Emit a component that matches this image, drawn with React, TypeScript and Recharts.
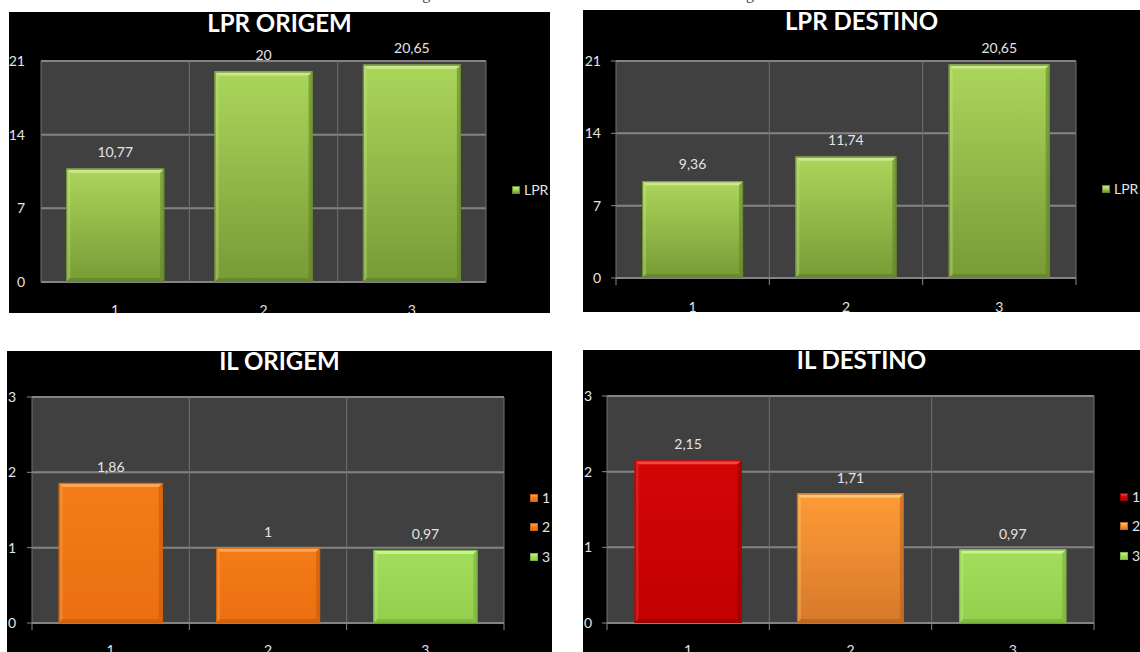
import React from 'react';
import { BarChart, Bar, XAxis, YAxis, CartesianGrid, LabelList, Cell, Legend } from 'recharts';

// ---------- data ----------
const CATEGORIES = ['1', '2', '3'];
const LPR_ORIGEM_VALUES = [10.77, 20, 20.65];
const LPR_DESTINO_VALUES = [9.36, 11.74, 20.65];
const IL_ORIGEM_VALUES = [1.86, 1, 0.97];
const IL_DESTINO_VALUES = [2.15, 1.71, 0.97];
const LPR_TICKS = [0, 7, 14, 21];
const IL_TICKS = [0, 1, 2, 3];
const LPR_LEGEND = ['LPR'];
const IL_LEGEND = ['1', '2', '3'];
const TITLES = ['LPR ORIGEM', 'LPR DESTINO', 'IL ORIGEM', 'IL DESTINO'];
const CAPTION = 'Figura 6. Gráficos de LPR e IL dos Terminais de Origem e dos Terminais de Destino';

// ---------- styles ----------
const FONT = "Lato, 'Open Sans', sans-serif";
const TEXT = '#e4e4e4';

type Pal = { top: string; bottom: string; light: string; dark: string; edge: string };
const PALETTES: Record<string, Pal> = {
  lprGreen: { top: '#ABD65B', bottom: '#779B36', light: '#CBE98C', dark: '#5E7E27', edge: '#678A2C' },
  ilGreen: { top: '#A2DD5C', bottom: '#93CF4C', light: '#C8F390', dark: '#75AB38', edge: '#7CB23F' },
  orange: { top: '#F47C17', bottom: '#EB6F11', light: '#FFA656', dark: '#C35A0B', edge: '#CC620D' },
  red: { top: '#D30606', bottom: '#C30000', light: '#F04848', dark: '#920000', edge: '#9C0000' },
  lightOrange: { top: '#FF9B36', bottom: '#D6792B', light: '#FFC578', dark: '#B15E1D', edge: '#BC6722' },
};

const LPR_COLORS = ['lprGreen', 'lprGreen', 'lprGreen'];
const LPR_LEGEND_COLORS = ['lprGreen'];
const IL_ORIGEM_COLORS = ['orange', 'orange', 'ilGreen'];
const IL_DESTINO_COLORS = ['red', 'lightOrange', 'ilGreen'];

type Cfg = {
  x: number; y: number; w: number; h: number;
  mt: number; mr: number; yw: number; xh: number;
  ym: number; xm: number; showTicks: boolean; labelOffset: number;
  legendLeft: number; legendTop: number; titleTop: number;
};

const CFG1: Cfg = { x: 9, y: 12, w: 541, h: 301, mt: 49, mr: 64, yw: 32, xh: 31, ym: 11, xm: 23, showTicks: false, labelOffset: 12, legendLeft: 503, legendTop: 163, titleTop: -1 };
const CFG2: Cfg = { x: 583, y: 10, w: 557, h: 302, mt: 51, mr: 64, yw: 33, xh: 34, ym: 10, xm: 24, showTicks: true, labelOffset: 12, legendLeft: 519, legendTop: 164, titleTop: -1 };
const CFG3: Cfg = { x: 7, y: 351, w: 545, h: 301, mt: 46, mr: 48, yw: 25, xh: 29, ym: 11, xm: 22, showTicks: true, labelOffset: 11, legendLeft: 523, legendTop: 132, titleTop: -2 };
const CFG4: Cfg = { x: 583, y: 350, w: 557, h: 302, mt: 46, mr: 46, yw: 24, xh: 29, ym: 10, xm: 22, showTicks: true, labelOffset: 11, legendLeft: 537, legendTop: 132, titleTop: -2 };

const fmt = (v: any) => String(v).replace('.', ',');

function Gradients() {
  return (
    <svg width={0} height={0} style={{ position: 'absolute' }}>
      <defs>
        {Object.keys(PALETTES).map((k) => (
          <linearGradient key={k} id={`grad-${k}`} x1="0" y1="0" x2="0" y2="1">
            <stop offset="0%" stopColor={PALETTES[k].top} />
            <stop offset="100%" stopColor={PALETTES[k].bottom} />
          </linearGradient>
        ))}
      </defs>
    </svg>
  );
}

function BevelBar(props: any) {
  const { x, y, width: w, height: h, index, colors } = props;
  if (!(w > 0) || !(h > 0)) return null;
  const key = colors[index];
  const p = PALETTES[key];
  const b = Math.min(4, w / 4, h / 4);
  return (
    <g>
      <rect x={x} y={y} width={w} height={h} fill={`url(#grad-${key})`} />
      <polygon points={`${x},${y} ${x + w},${y} ${x + w - b},${y + b} ${x + b},${y + b}`} fill={p.light} />
      <polygon points={`${x},${y} ${x + b},${y + b} ${x + b},${y + h - b} ${x},${y + h}`} fill={p.light} opacity={0.35} />
      <polygon points={`${x + w},${y} ${x + w - b},${y + b} ${x + w - b},${y + h - b} ${x + w},${y + h}`} fill={p.dark} opacity={0.55} />
      <polygon points={`${x},${y + h} ${x + b},${y + h - b} ${x + w - b},${y + h - b} ${x + w},${y + h}`} fill={p.dark} opacity={0.6} />
      <rect x={x + 0.5} y={y + 0.5} width={w - 1} height={h - 1} fill="none" stroke={p.edge} strokeWidth={1} />
    </g>
  );
}

function XTick(props: any) {
  const { x, y, payload, index, visibleTicksCount, width, showTicks, margin } = props;
  const axisY = y - margin;
  const bw = width / visibleTicksCount;
  const ok = showTicks && isFinite(bw);
  return (
    <g>
      {ok && <line x1={x - bw / 2} x2={x - bw / 2} y1={axisY} y2={axisY + 7} stroke="#8a8a8a" strokeWidth={1} />}
      {ok && index === visibleTicksCount - 1 && (
        <line x1={x + bw / 2} x2={x + bw / 2} y1={axisY} y2={axisY + 7} stroke="#8a8a8a" strokeWidth={1} />
      )}
      <text x={x} y={y} dy="0.71em" textAnchor="middle" fill={TEXT} fontSize={14} fontFamily={FONT}>
        {payload.value}
      </text>
    </g>
  );
}

function LegendBox({ labels, colors }: { labels: string[]; colors: string[] }) {
  return (
    <div style={{ display: 'flex', flexDirection: 'column' }}>
      {labels.map((l, i) => {
        const p = PALETTES[colors[i]];
        return (
          <div key={l} style={{ height: 29.5, display: 'flex', alignItems: 'center' }}>
            <span
              style={{
                width: 8, height: 8, boxSizing: 'border-box', marginRight: 4,
                background: `linear-gradient(${p.light}, ${p.top} 45%, ${p.bottom})`,
                border: `1px solid ${p.edge}`, display: 'inline-block',
              }}
            />
            <span style={{ color: TEXT, fontSize: 14, fontFamily: FONT, lineHeight: '14px' }}>{l}</span>
          </div>
        );
      })}
    </div>
  );
}

function Panel({ cfg, title, values, ticks, legend, colors, legendColors }: {
  cfg: Cfg; title: string; values: number[]; ticks: number[]; legend: string[]; colors: string[]; legendColors: string[];
}) {
  const data = CATEGORIES.map((c, i) => ({ cat: c, value: values[i] }));
  const n = CATEGORIES.length;
  return (
    <div style={{ position: 'absolute', left: cfg.x, top: cfg.y, width: cfg.w, height: cfg.h, background: '#000', overflow: 'hidden' }}>
      <BarChart
        width={cfg.w}
        height={cfg.h}
        data={data}
        margin={{ top: cfg.mt, right: cfg.mr, bottom: 0, left: 0 }}
        barCategoryGap="17%"
      >
        <CartesianGrid horizontal vertical={false} fill="#404040" stroke="#848484" strokeWidth={2} />
        <CartesianGrid
          horizontal={false}
          vertical
          stroke="#707070"
          strokeWidth={1}
          verticalCoordinatesGenerator={(args: any) => {
            const o = args && args.offset;
            if (!o) return [];
            return Array.from({ length: n + 1 }, (_, i) => o.left + (i * o.width) / n);
          }}
        />
        <XAxis
          dataKey="cat"
          height={cfg.xh}
          axisLine={false}
          tickLine={false}
          tickSize={0}
          tickMargin={cfg.xm}
          interval={0}
          tick={(p: any) => <XTick {...p} showTicks={cfg.showTicks} margin={cfg.xm} />}
        />
        <YAxis
          width={cfg.yw}
          domain={[ticks[0], ticks[ticks.length - 1]]}
          ticks={ticks}
          interval={0}
          axisLine={false}
          tickSize={5}
          tickMargin={cfg.ym}
          tickLine={{ stroke: cfg.showTicks ? '#8a8a8a' : 'none' }}
          tick={{ fill: TEXT, fontSize: 14, fontFamily: FONT }}
        />
        <Bar dataKey="value" isAnimationActive={false} shape={(p: any) => <BevelBar {...p} colors={colors} />}>
          {data.map((d, i) => (
            <Cell key={d.cat} fill={PALETTES[colors[i]].top} />
          ))}
          <LabelList
            dataKey="value"
            position="top"
            offset={cfg.labelOffset}
            formatter={fmt}
            fill={TEXT}
            fontSize={14}
            fontFamily={FONT}
          />
        </Bar>
        <Legend
          layout="vertical"
          align="center"
          verticalAlign="middle"
          wrapperStyle={{ left: cfg.legendLeft, top: cfg.legendTop, width: 40 }}
          content={() => <LegendBox labels={legend} colors={legendColors} />}
        />
      </BarChart>
      <div
        style={{
          position: 'absolute', left: 0, top: cfg.titleTop, width: cfg.w, textAlign: 'center',
          fontFamily: FONT, fontWeight: 700, fontSize: 24, lineHeight: '24px', color: '#fff',
        }}
      >
        {title}
      </div>
    </div>
  );
}

export default function App() {
  return (
    <div style={{ position: 'absolute', left: 0, top: 0, width: 1140, height: 652, background: '#fff', overflow: 'hidden' }}>
      <Gradients />
      <div
        style={{
          position: 'absolute', left: 409, top: -15.5, whiteSpace: 'nowrap',
          fontFamily: "'Liberation Serif', serif", fontSize: 16, lineHeight: '18px', color: '#444',
        }}
      >
        {CAPTION}
      </div>
      <Panel cfg={CFG1} title={TITLES[0]} values={LPR_ORIGEM_VALUES} ticks={LPR_TICKS} legend={LPR_LEGEND} colors={LPR_COLORS} legendColors={LPR_LEGEND_COLORS} />
      <Panel cfg={CFG2} title={TITLES[1]} values={LPR_DESTINO_VALUES} ticks={LPR_TICKS} legend={LPR_LEGEND} colors={LPR_COLORS} legendColors={LPR_LEGEND_COLORS} />
      <Panel cfg={CFG3} title={TITLES[2]} values={IL_ORIGEM_VALUES} ticks={IL_TICKS} legend={IL_LEGEND} colors={IL_ORIGEM_COLORS} legendColors={IL_ORIGEM_COLORS} />
      <Panel cfg={CFG4} title={TITLES[3]} values={IL_DESTINO_VALUES} ticks={IL_TICKS} legend={IL_LEGEND} colors={IL_DESTINO_COLORS} legendColors={IL_DESTINO_COLORS} />
    </div>
  );
}
